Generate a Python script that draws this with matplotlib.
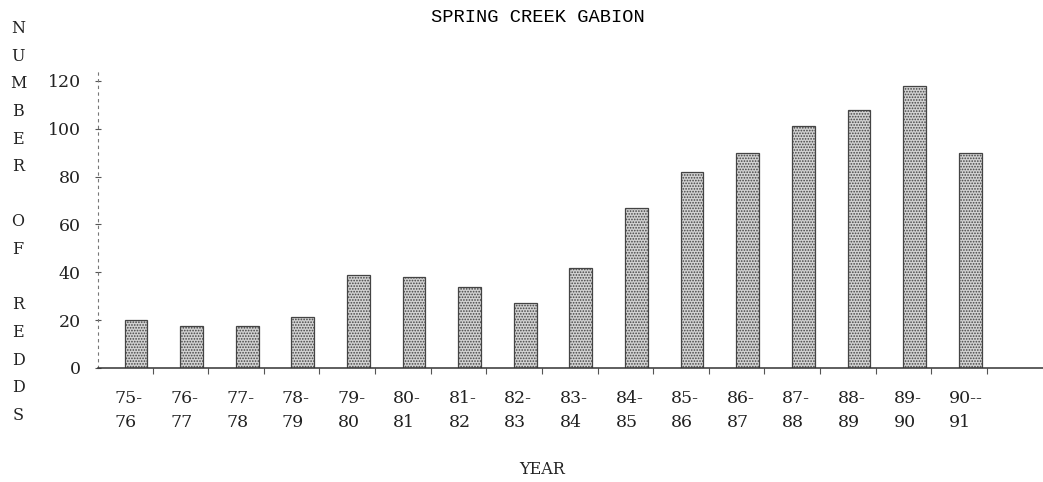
import matplotlib.pyplot as plt
import matplotlib.transforms as mtransforms
import numpy as np

seasons = ['75-\n76', '76-\n77', '77-\n78', '78-\n79', '79-\n80', '80-\n81',
           '81-\n82', '82-\n83', '83-\n84', '84-\n85', '85-\n86', '86-\n87',
           '87-\n88', '88-\n89', '89-\n90', '90--\n91']
redds = [20, 17.5, 17.5, 21.5, 39, 38, 34, 27, 42, 67, 82, 90, 101, 108, 118, 90]
yticks = [0, 20, 40, 60, 80, 100, 120]

plt.rcParams['hatch.linewidth'] = 0.8
plt.rcParams['hatch.color'] = '#444444'

fig = plt.figure(figsize=(10.43, 4.82), dpi=100)
ax = fig.add_axes([98 / 1043, 114 / 482, 945 / 1043, 299 / 482])

x = np.arange(len(redds))
ax.bar(x, redds, width=0.41, color='#d2d2d2', edgecolor='#444444',
       hatch='......', linewidth=0.9, zorder=2)

ax.set_xlim(-0.683, 16.31)
ax.set_ylim(0, 125)

for s in ['top', 'right']:
    ax.spines[s].set_visible(False)
ax.spines['left'].set_linestyle((0, (2, 4)))
ax.spines['left'].set_color('#777777')
ax.spines['left'].set_linewidth(0.8)
ax.spines['bottom'].set_color('#333333')
ax.spines['bottom'].set_linewidth(1.1)

ax.set_yticks(yticks)
ax.set_yticklabels([str(v) for v in yticks], family='DejaVu Serif', fontsize=12.5,
                   color='#222222')
ax.tick_params(axis='y', direction='inout', length=5, width=0.8, color='#555555', pad=10)

ax.set_xticks(x)
ax.set_xticklabels(seasons, family='DejaVu Serif', fontsize=12.5, color='#222222',
                   linespacing=1.55)
ax.tick_params(axis='x', length=0, pad=16)
shift = mtransforms.ScaledTranslation(-21 / 100, 0, fig.dpi_scale_trans)
for lab in ax.get_xticklabels():
    lab.set_horizontalalignment('left')
    lab.set_transform(lab.get_transform() + shift)

ax.set_xticks(x + 0.3, minor=True)
ax.tick_params(axis='x', which='minor', direction='out', length=4, width=0.8,
               color='#555555')

fig.text(538 / 1043, 1 - 18 / 482, 'SPRING CREEK GABION', ha='center', va='center',
         family='Liberation Mono', fontsize=13.5, color='#000000')
fig.text(542 / 1043, 1 - 470 / 482, 'YEAR', ha='center', va='center',
         family='DejaVu Serif', fontsize=11.5, color='#222222')
fig.text(18 / 1043, 1 - 222 / 482, '\n'.join('NUMBER OF REDDS'), ha='center',
         va='center', family='DejaVu Serif', fontsize=11.5, color='#222222',
         linespacing=1.82)

fig.savefig('out.png', dpi=100)
